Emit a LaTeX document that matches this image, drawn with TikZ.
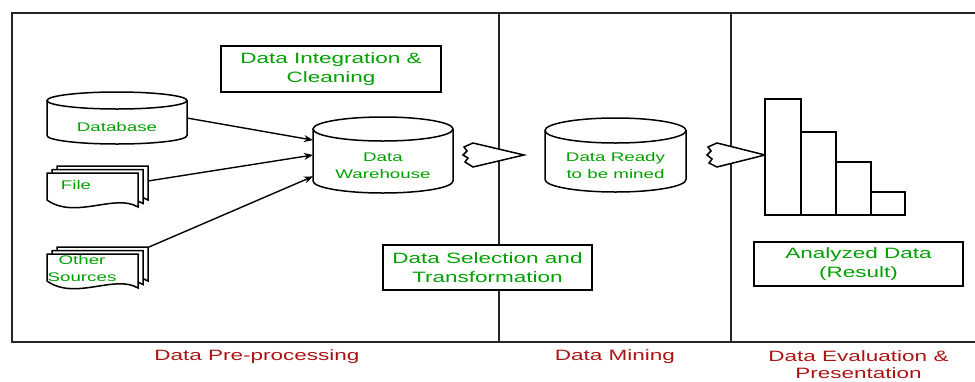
\documentclass[tikz,border=0pt]{standalone}
\usepackage{fontspec}
\setmainfont{Liberation Sans}[FakeStretch=1.5]
\usetikzlibrary{positioning,arrows.meta}
\definecolor{stepgreen}{RGB}{0,160,0}
\definecolor{phasered}{RGB}{170,20,20}
\tikzset{
  frame/.style={line width=1.8pt, black!85},
  outline/.style={line width=1.5pt, fill=white},
  greentxt/.style={text=stepgreen, font=\fontsize{12.5}{17}\selectfont, align=center, inner sep=0pt},
  stepbox/.style={draw, line width=1.6pt, fill=white, text=stepgreen, font=\fontsize{15}{18.5}\selectfont, align=center, inner sep=0pt},
  phase/.style={text=phasered, font=\fontsize{15}{17}\selectfont, align=center, inner sep=0pt},
  feed/.style={line width=1.4pt, -{Stealth[length=9pt,width=7pt]}},
  hole/.style={inner sep=0pt, outer sep=0pt}
}

\begin{document}
\begin{tikzpicture}[x=1pt,y=-1pt]
\useasboundingbox (0,0) rectangle (975,381);
% frame and phase dividers
\draw[frame] (975,13) -- (12,13) -- (12,342) -- (975,342);
\draw[frame] (499,13) -- (499,342) (731,13) -- (731,342);

% database
\draw[outline] (47,100.5) -- (47,135.5) arc (180:0:70 and 8.5) -- (187,100.5);
\draw[outline] (117,100.5) ellipse (70 and 8.5);
\node[hole, minimum width=140, minimum height=52] (db) at (117,118) {};
\node[greentxt] (dbtxt) at (117,127) {Database};

% file stack
\foreach \d in {10,5,0}
  \filldraw[outline, shift={(47+\d,173-0.7*\d)}] (0,0) -- (91,0) -- (91,34)
    .. controls (68,20) and (28,47) .. (0,27) -- cycle;
\node[hole, minimum width=102, minimum height=44] (file) at (98,188) {};
\node[greentxt] (filetxt) at (76,185) {File};

% other sources stack
\foreach \d in {10,5,0}
  \filldraw[outline, shift={(47+\d,254-0.7*\d)}] (0,0) -- (91,0) -- (91,34)
    .. controls (68,20) and (28,47) .. (0,27) -- cycle;
\node[hole, minimum width=102, minimum height=44] (other) at (98,269) {};
\node[greentxt] (othertxt) at (82,269) {Other\\Sources};

% data warehouse
\draw[outline] (313,129) -- (313,181) arc (180:0:70 and 12) -- (453,129);
\draw[outline] (383,129) ellipse (70 and 12);
\node[hole, minimum width=140, minimum height=76] (dw) at (383,155) {};
\node[greentxt] (dwtxt) at (383,166) {Data\\Warehouse};

\draw[feed] (db.east) -- (dw.168);
\draw[feed] (file.8) -- (dw.west);
\draw[feed] (other.north east) -- (dw.197);

% step boxes
\node[stepbox, minimum width=220, minimum height=46] (integ) at (331,69) {Data Integration \&\\Cleaning};
\node[stepbox, minimum width=209, minimum height=45] (select) at (487.5,267.5) {Data Selection and\\Transformation};

% block arrow into mining
\filldraw[outline] (473,143) -- (524,155) -- (473,167) -- (465,162) -- (468,158)
  -- (463,155) -- (467,151) -- (464,147) -- cycle;

% data ready to be mined
\draw[outline] (545,130.5) -- (545,179.5) arc (180:0:70.5 and 12.5) -- (686,130.5);
\draw[outline] (615.5,130.5) ellipse (70.5 and 12.5);
\node[hole, minimum width=141, minimum height=74] (ready) at (615.5,155) {};
\node[greentxt] (readytxt) at (615.5,166) {Data Ready\\to be mined};

% block arrow into evaluation
\filldraw[outline] (717,143) -- (765,155) -- (717,167) -- (709,163) -- (712,159)
  -- (707,155) -- (711,151) -- (708,147) -- cycle;

% bar chart
\foreach \xa/\xb/\barTop in {765/801/99, 801/836/132, 836/871/162, 871/905/192}
  \draw[outline] (\xa,\barTop) rectangle (\xb,215);
\node[stepbox, minimum width=209, minimum height=44] (result) at (858.5,264) {Analyzed Data\\(Result)};

% phase names
\node[phase] (pre) at (257,357) {Data Pre-processing};
\node[phase] (mine) at (615,357) {Data Mining};
\node[phase] (eval) at (858.5,364.5) {Data Evaluation \&\\Presentation};
\end{tikzpicture}
\end{document}
